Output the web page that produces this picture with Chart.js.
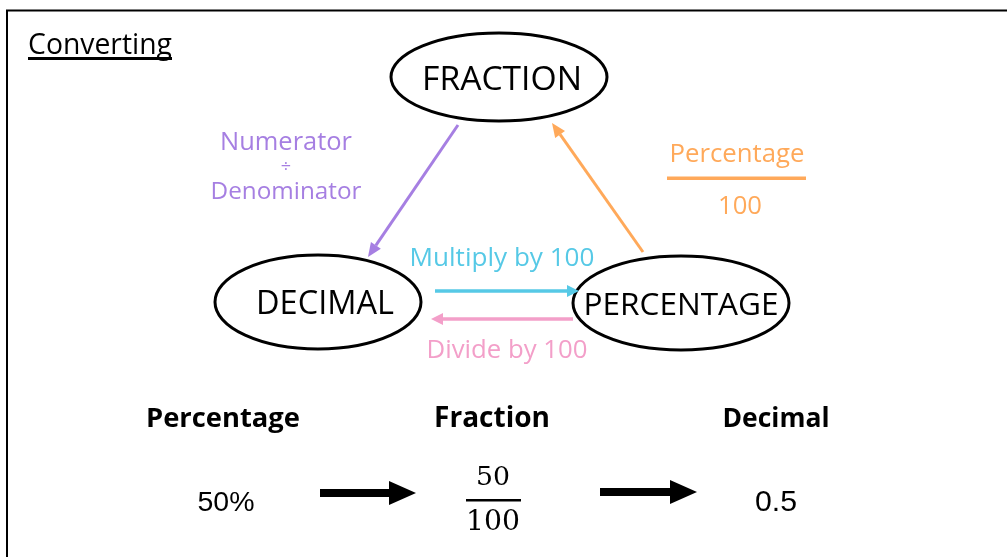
<!DOCTYPE html>
<html><head><meta charset="utf-8">
<script src="https://cdn.jsdelivr.net/npm/chart.js@4"></script>
<style>html,body{margin:0;padding:0;background:#fff;overflow:hidden}canvas{display:block}</style>
</head><body><canvas id="c" width="1007" height="557"></canvas>
<script>
// ---- content (data) ----
const titleText = 'Converting';
const nodeLabels = ['FRACTION', 'DECIMAL', 'PERCENTAGE'];
const divisionLabels = ['Numerator', '÷', 'Denominator'];
const percentOverLabels = ['Percentage', '100'];
const multiplyLabel = 'Multiply by 100';
const divideLabel = 'Divide by 100';
const exampleHeaders = ['Percentage', 'Fraction', 'Decimal'];
const examplePercent = '50%';
const exampleFraction = ['50', '100'];
const exampleDecimal = '0.5';

// ---- layout (positions in chart units = pixels) ----
const L = {
  nodes: [{x:499,y:77,rx:108,ry:44,w:160},{x:318,y:302,rx:103,ry:47,w:138},{x:681,y:303,rx:108,ry:47,w:195}],
  nodeTextX: [502, 325, 681]
};
const FONT = '"Open Sans", "Noto Sans", sans-serif';
const NUMFONT = '"Liberation Sans", "DejaVu Sans", sans-serif';
const COL = {purple:'#a67fe2', orange:'#ffa95a', cyan:'#56c9e6', pink:'#f39fc9', black:'#000'};
const TEXT_DY = 2;

function fitText(ctx, text, x, y, width, family, weight, color, maxSize){
  ctx.font = weight + ' 100px ' + family;
  const m = ctx.measureText(text).width;
  let size = 100 * width / m;
  if (maxSize && size > maxSize) size = maxSize;
  ctx.font = weight + ' ' + size + 'px ' + family;
  ctx.fillStyle = color;
  ctx.textAlign = 'center';
  ctx.textBaseline = 'middle';
  ctx.fillText(text, x, y + TEXT_DY);
}
function arrow(ctx, x1, y1, x2, y2, color, lw, hl, hw){
  const a = Math.atan2(y2-y1, x2-x1);
  const bx = x2 - hl*Math.cos(a), by = y2 - hl*Math.sin(a);
  ctx.strokeStyle = color; ctx.fillStyle = color; ctx.lineWidth = lw; ctx.lineCap = 'butt';
  ctx.beginPath(); ctx.moveTo(x1,y1); ctx.lineTo(bx,by); ctx.stroke();
  ctx.beginPath();
  ctx.moveTo(x2,y2);
  ctx.lineTo(bx + hw*Math.sin(a), by - hw*Math.cos(a));
  ctx.lineTo(bx - hw*Math.sin(a), by + hw*Math.cos(a));
  ctx.closePath(); ctx.fill();
}

const diagram = {
  id: 'diagram',
  afterDatasetsDraw(chart){
    const ctx = chart.ctx, sx = chart.scales.x, sy = chart.scales.y;
    const X = v => sx.getPixelForValue(v), Y = v => sy.getPixelForValue(v);
    ctx.save();
    // frame
    ctx.strokeStyle = '#000'; ctx.lineWidth = 2;
    ctx.beginPath(); ctx.moveTo(X(7), Y(557)); ctx.lineTo(X(7), Y(10.5)); ctx.lineTo(X(1007), Y(10.5)); ctx.stroke();
    // title
    fitText(ctx, titleText, X(100), Y(44), 144, FONT, '400', '#000');
    ctx.fillStyle = '#000'; ctx.fillRect(X(28), Y(57), 144, 3);
    // nodes
    chart.getDatasetMeta(0).data.forEach((pt, i) => {
      const n = L.nodes[i];
      ctx.strokeStyle = '#000'; ctx.lineWidth = 3;
      ctx.beginPath(); ctx.ellipse(pt.x, pt.y, n.rx, n.ry, 0, 0, Math.PI*2); ctx.stroke();
      fitText(ctx, nodeLabels[i], X(L.nodeTextX[i]), pt.y + 1, n.w, FONT, '400', '#000');
    });
    // purple: fraction -> decimal
    arrow(ctx, X(458), Y(125), X(368), Y(257), COL.purple, 3, 14, 6);
    fitText(ctx, divisionLabels[0], X(286), Y(141), 132, FONT, '400', COL.purple);
    fitText(ctx, divisionLabels[1], X(286), Y(165), 12, FONT, '400', COL.purple, 18);
    fitText(ctx, divisionLabels[2], X(286), Y(190), 151, FONT, '400', COL.purple);
    // orange: percentage -> fraction
    arrow(ctx, X(643), Y(252), X(552), Y(123), COL.orange, 3, 14, 6);
    fitText(ctx, percentOverLabels[0], X(737), Y(153), 135, FONT, '400', COL.orange);
    ctx.fillStyle = COL.orange; ctx.fillRect(X(667), Y(176.5), 139, 3.5);
    fitText(ctx, percentOverLabels[1], X(740), Y(205), 44, FONT, '400', COL.orange);
    // cyan / pink
    arrow(ctx, X(435), Y(291), X(579), Y(291), COL.cyan, 3.5, 12, 6);
    fitText(ctx, multiplyLabel, X(502), Y(257), 185, FONT, '400', COL.cyan);
    arrow(ctx, X(573), Y(319), X(431), Y(319), COL.pink, 3.5, 12, 6);
    fitText(ctx, divideLabel, X(507), Y(349), 161, FONT, '400', COL.pink);
    // examples
    const hx = [223, 492, 776], hw = [154, 116, 107];
    exampleHeaders.forEach((h, i) => fitText(ctx, h, X(hx[i]), Y(417), hw[i], FONT, '700', '#000'));
    fitText(ctx, examplePercent, X(226), Y(501), 57, NUMFONT, '400', '#000');
    arrow(ctx, X(320), Y(493), X(416), Y(493), '#000', 8, 27, 12);
    arrow(ctx, X(600), Y(492), X(697), Y(492), '#000', 8, 27, 12);
    const serif = '"DejaVu Serif", "Liberation Serif", serif';
    fitText(ctx, exampleFraction[0], X(493), Y(476), 34, serif, '400', '#000');
    ctx.fillStyle = '#000'; ctx.fillRect(X(466), Y(499), 55, 2.5);
    fitText(ctx, exampleFraction[1], X(493), Y(521), 54, serif, '400', '#000');
    fitText(ctx, exampleDecimal, X(776), Y(501), 42, NUMFONT, '400', '#000');
    ctx.restore();
  }
};

new Chart(document.getElementById('c'), {
  type: 'scatter',
  data: { datasets: [{ label: 'nodes', data: L.nodes.map(n => ({x:n.x, y:n.y})), pointRadius: 0, pointHoverRadius: 0 }] },
  options: {
    responsive: false, animation: false, devicePixelRatio: 1,
    layout: { padding: 0 },
    plugins: { legend: { display: false }, tooltip: { enabled: false }, title: { display: false } },
    events: [],
    scales: {
      x: { type: 'linear', min: 0, max: 1007, display: false },
      y: { type: 'linear', min: 0, max: 557, reverse: true, display: false }
    }
  },
  plugins: [diagram]
});
</script>
</body></html>
